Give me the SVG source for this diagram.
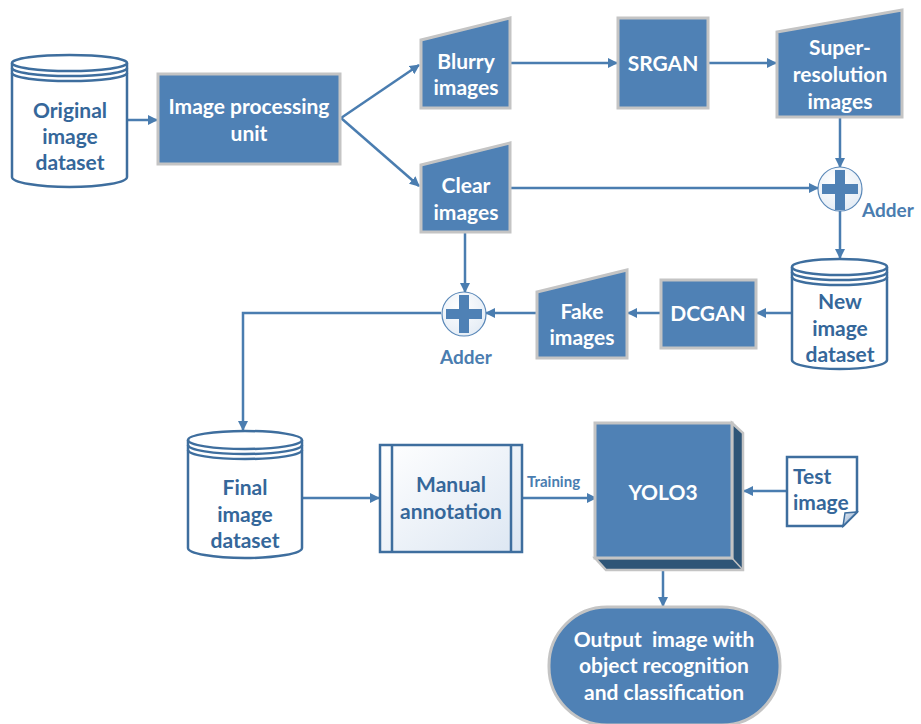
<svg xmlns="http://www.w3.org/2000/svg" width="921" height="724" viewBox="0 0 921 724">
<defs>
<marker id="ah" markerWidth="10" markerHeight="10" refX="9" refY="5" orient="auto" markerUnits="userSpaceOnUse">
<path d="M0,0 L10,5 L0,10 Z" fill="#4a7db0"/>
</marker>
<linearGradient id="lg" x1="0" y1="0" x2="1" y2="1">
<stop offset="0" stop-color="#ffffff"/>
<stop offset="1" stop-color="#dce6f2"/>
</linearGradient>
<radialGradient id="rg" cx="0.4" cy="0.35" r="0.7">
<stop offset="0" stop-color="#ffffff"/>
<stop offset="1" stop-color="#e4ecf5"/>
</radialGradient>
<linearGradient id="fold" x1="0" y1="0" x2="1" y2="1">
<stop offset="0" stop-color="#e8eef6"/>
<stop offset="1" stop-color="#7e9fc6"/>
</linearGradient>
</defs>
<style>
.box{fill:#4f81b5;stroke:#c4c4c4;stroke-width:3}
.cyl{fill:#ffffff;stroke:#3e6e9e;stroke-width:2.5}
.ring{fill:none;stroke:#3e6e9e;stroke-width:2.5}
.wt{font-family:Lato,"Liberation Sans",sans-serif;font-weight:bold;font-size:21px;fill:#ffffff;text-anchor:middle}
.bt{font-family:Lato,"Liberation Sans",sans-serif;font-weight:bold;font-size:21px;fill:#35679a;text-anchor:middle}
.lt{font-family:Lato,"Liberation Sans",sans-serif;font-weight:bold;font-size:19px;fill:#4a7db0}
.sm{font-family:Lato,"Liberation Sans",sans-serif;font-weight:bold;font-size:15px;fill:#4a7db0}
.cn{fill:none;stroke:#4a7db0;stroke-width:2.5;marker-end:url(#ah)}
.plus{fill:#4f81b5}
.adc{fill:url(#rg);stroke:#5a88b8;stroke-width:1.2}
</style>
<rect width="921" height="724" fill="#ffffff"/>

<g id="connectors">
<path class="cn" d="M127,120 L157,120"/>
<path class="cn" d="M341,118 L419,65"/>
<path class="cn" d="M341,118 L419,186"/>
<path class="cn" d="M510,63 L617,63"/>
<path class="cn" d="M708,63 L776,63"/>
<path class="cn" d="M840,117 L840,167"/>
<path class="cn" d="M510,188 L818,188"/>
<path class="cn" d="M840,210 L840,258"/>
<path class="cn" d="M465,232 L465,292"/>
<path class="cn" d="M792,313 L757,313"/>
<path class="cn" d="M661,313 L628,313"/>
<path class="cn" d="M537,313 L486,313"/>
<path class="cn" d="M441,313 L243,313 L243,430"/>
<path class="cn" d="M302,498 L379,498"/>
<path class="cn" d="M522,498 L596,498"/>
<path class="cn" d="M787,491 L744,491"/>
<path class="cn" d="M663,570 L663,606"/>
</g>

<g id="original">
<path class="cyl" d="M12,63 L12,177 A57.5,10 0 0 0 127,177 L127,63"/>
<ellipse class="cyl" cx="69.5" cy="63" rx="57.5" ry="8"/>
<path class="ring" d="M12,68 A57.5,8 0 0 0 127,68"/>
<path class="ring" d="M12,73 A57.5,8 0 0 0 127,73"/>
<text class="bt" x="70" y="118">Original</text>
<text class="bt" x="70" y="144">image</text>
<text class="bt" x="70" y="170">dataset</text>
</g>

<g id="ipu">
<rect class="box" x="158" y="74" width="182" height="90"/>
<text class="wt" x="249" y="114">Image processing</text>
<text class="wt" x="249" y="141">unit</text>
</g>

<g id="blurry">
<path class="box" d="M421,40 L510,18 L510,108 L421,108 Z"/>
<text class="wt" x="466" y="69">Blurry</text>
<text class="wt" x="466" y="95">images</text>
</g>

<g id="srgan">
<rect class="box" x="618" y="18" width="90" height="90"/>
<text class="wt" x="663" y="71">SRGAN</text>
</g>

<g id="super">
<path class="box" d="M777,32 L902,10 L902,117 L777,117 Z"/>
<text class="wt" x="840" y="55">Super-</text>
<text class="wt" x="840" y="82">resolution</text>
<text class="wt" x="840" y="109">images</text>
</g>

<g id="clear">
<path class="box" d="M421,165 L510,143 L510,232 L421,232 Z"/>
<text class="wt" x="466" y="193">Clear</text>
<text class="wt" x="466" y="220">images</text>
</g>

<g id="adder1">
<circle class="adc" cx="840" cy="189" r="22"/>
<rect class="plus" x="835" y="170" width="10" height="40"/>
<rect class="plus" x="822" y="184" width="36" height="10"/>
<text class="lt" x="862" y="217">Adder</text>
</g>

<g id="newds">
<path class="cyl" d="M792,267 L792,360 A47.5,9 0 0 0 887,360 L887,267"/>
<ellipse class="cyl" cx="839.5" cy="267" rx="47.5" ry="8"/>
<path class="ring" d="M792,272 A47.5,8 0 0 0 887,272"/>
<path class="ring" d="M792,277 A47.5,8 0 0 0 887,277"/>
<text class="bt" x="840" y="309">New</text>
<text class="bt" x="840" y="336">image</text>
<text class="bt" x="840" y="362">dataset</text>
</g>

<g id="dcgan">
<rect class="box" x="661" y="280" width="95" height="68"/>
<text class="wt" x="708" y="321">DCGAN</text>
</g>

<g id="fake">
<path class="box" d="M537,292 L627,270 L627,358 L537,358 Z"/>
<text class="wt" x="582" y="319">Fake</text>
<text class="wt" x="582" y="345">images</text>
</g>

<g id="adder2">
<circle class="adc" cx="464" cy="314" r="22"/>
<rect class="plus" x="459" y="295" width="10" height="38"/>
<rect class="plus" x="446" y="309" width="36" height="10"/>
<text class="lt" x="440" y="364">Adder</text>
</g>

<g id="finalds">
<path class="cyl" d="M188,440 L188,548 A57,10 0 0 0 302,548 L302,440"/>
<ellipse class="cyl" cx="245" cy="440" rx="57" ry="9"/>
<path class="ring" d="M188,445 A57,9 0 0 0 302,445"/>
<path class="ring" d="M188,450 A57,9 0 0 0 302,450"/>
<text class="bt" x="245" y="495">Final</text>
<text class="bt" x="245" y="522">image</text>
<text class="bt" x="245" y="548">dataset</text>
</g>

<g id="manual">
<rect x="380" y="445" width="142" height="107" fill="url(#lg)" stroke="#3e6e9e" stroke-width="2.5"/>
<line class="ring" x1="392" y1="445" x2="392" y2="552"/>
<line class="ring" x1="511" y1="445" x2="511" y2="552"/>
<text class="bt" x="451" y="492">Manual</text>
<text class="bt" x="451" y="519">annotation</text>
</g>

<text class="sm" x="527" y="487">Training</text>

<g id="yolo">
<path d="M732,423 L743,433 L743,570 L606,570 L595,558 L732,558 Z" fill="#2e5577" stroke="#c4c4c4" stroke-width="2.5"/>
<line x1="732" y1="558" x2="743" y2="570" stroke="#c4c4c4" stroke-width="1.5"/>
<rect class="box" x="595" y="423" width="137" height="135"/>
<text class="wt" x="663" y="500">YOLO3</text>
</g>

<g id="test">
<path d="M787,457 L857,457 L857,512 L843,526 L787,526 Z" fill="#ffffff" stroke="#3e6e9e" stroke-width="2.5"/>
<path d="M843,526 L845,513 L857,512 Z" fill="url(#fold)" stroke="#3e6e9e" stroke-width="1.5"/>
<text class="bt" x="793" y="484" style="text-anchor:start">Test</text>
<text class="bt" x="793" y="510" style="text-anchor:start">image</text>
</g>

<g id="output">
<rect class="box" x="549" y="607" width="231" height="118" rx="58" ry="58"/>
<text class="wt" x="664" y="647" xml:space="preserve" style="white-space:pre">Output  image with</text>
<text class="wt" x="664" y="673">object recognition</text>
<text class="wt" x="664" y="700">and classification</text>
</g>
</svg>
